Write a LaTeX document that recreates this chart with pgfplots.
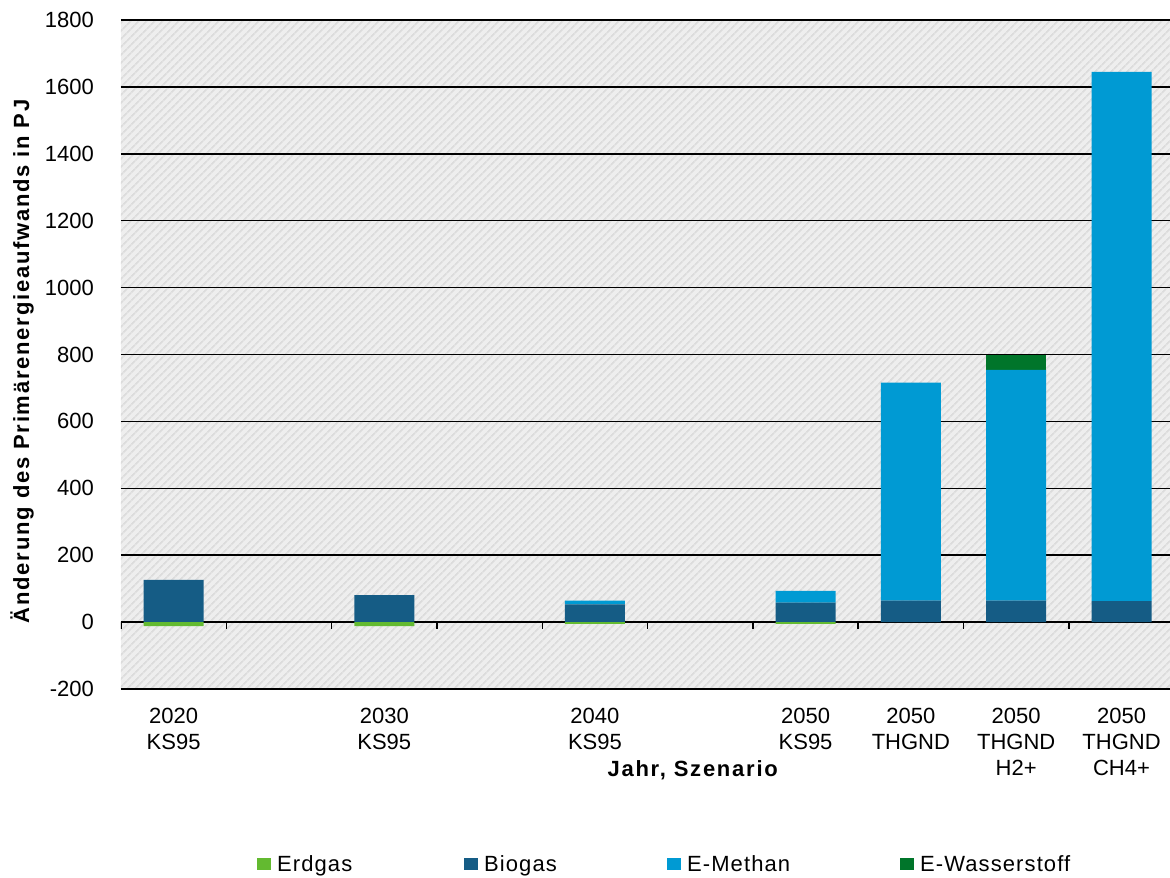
\documentclass[border=0pt]{standalone}
\usepackage{pgfplots}
\pgfplotsset{compat=1.18}
\usepackage{fontspec}
\setmainfont{Liberation Sans}
\newfontfamily\legfont{Liberation Sans}[LetterSpace=5]
\newfontfamily\labfont{Liberation Sans}[LetterSpace=8]
\usetikzlibrary{patterns.meta}

\definecolor{erdgas}{RGB}{99,186,48}
\definecolor{biogas}{RGB}{21,92,133}
\definecolor{emethan}{RGB}{0,154,211}
\definecolor{ewasser}{RGB}{0,117,42}
\definecolor{bgbase}{RGB}{238,238,238}
\definecolor{bgstripe}{RGB}{220,220,220}

% x positions: 0..9 are category slots, empty slots 1, 3 and 5
\pgfplotstableread{
x   erdgas biogas emethan ewasser
0   -12    126    0       0
2   -12    81     0       0
4   -5     53     11      0
6   -5     58     35      0
7   0      64     652     0
8   0      64     690     44
9   0      63     1582    0
}\datatab

\newcommand{\basefont}{\fontsize{22bp}{26bp}\selectfont}

\begin{document}
\begin{tikzpicture}[font=\basefont]
\begin{axis}[
  scale only axis,
  width=1049bp, height=669bp,
  ybar stacked, stack negative=separate,
  bar width=60bp,
  xmin=-0.5, xmax=9.46,
  ymin=-200, ymax=1800,
  ytick={-200,0,200,400,600,800,1000,1200,1400,1600,1800},
  xtick={0,2,4,6,7,8,9},
  xticklabels={{2020\\KS95},{2030\\KS95},{2040\\KS95},{2050\\KS95},{2050\\THGND},{2050\\THGND\\H2+},{2050\\THGND\\CH4+}},
  xticklabel style={align=center, anchor=north, inner sep=0pt, yshift=-19bp},
  yticklabel style={anchor=east, inner sep=0pt, xshift=-27bp},
  /pgf/number format/assume math mode=true,
  /pgf/number format/1000 sep={},
  major tick length=0pt,
  axis line style={draw=none},
  ymajorgrids, xmajorgrids=false,
  grid style={black, line width=1.5bp},
  axis background/.style={fill=bgbase,
    postaction={pattern={Lines[angle=45,distance=6bp,line width=2.2bp]}, pattern color=bgstripe}},
  xlabel={Jahr, Szenario},
  xlabel style={at={(axis description cs:0.545,-0.107)}, anchor=north, inner sep=0pt, font=\basefont\labfont\bfseries},
  ylabel={Änderung des Primärenergieaufwands in PJ},
  ylabel style={at={(axis description cs:-0.0943,0.49)}, anchor=center, inner sep=0pt, font=\basefont\labfont\bfseries},
  legend columns=4,
  legend style={at={(axis description cs:0.1296,-0.2616)}, anchor=west, draw=none, fill=none,
    inner sep=0pt, column sep=0pt, nodes={inner sep=0pt}, font=\basefont\legfont},
  sq/.style={legend image code/.code={\fill[##1] (0bp,-6bp) rectangle (14bp,6bp); \path (20bp,0bp);}},
]
\addplot[fill=erdgas, draw=none, sq] table[x=x, y=erdgas] {\datatab};
\addlegendentry{\makebox[187bp][l]{Erdgas}}
\addplot[fill=biogas, draw=none, sq] table[x=x, y=biogas] {\datatab};
\addlegendentry{\makebox[183bp][l]{Biogas}}
\addplot[fill=emethan, draw=none, sq] table[x=x, y=emethan] {\datatab};
\addlegendentry{\makebox[213bp][l]{E-Methan}}
\addplot[fill=ewasser, draw=none, sq] table[x=x, y=ewasser] {\datatab};
\addlegendentry{E-Wasserstoff}

% category axis at zero, drawn above the bars, with slot separators
\draw[black, line width=1.5bp] (axis cs:-0.5,0) -- (axis cs:9.46,0);
\pgfplotsinvokeforeach{-0.5,0.5,1.5,2.5,3.5,4.5,5.5,6.5,7.5,8.5}{
  \draw[black, line width=1.5bp] (axis cs:#1,0) -- ([yshift=-7bp]axis cs:#1,0);
}
\end{axis}
\pgfresetboundingbox
\useasboundingbox (-121bp,-189bp) rectangle (1049bp,689bp);
\end{tikzpicture}
\end{document}
